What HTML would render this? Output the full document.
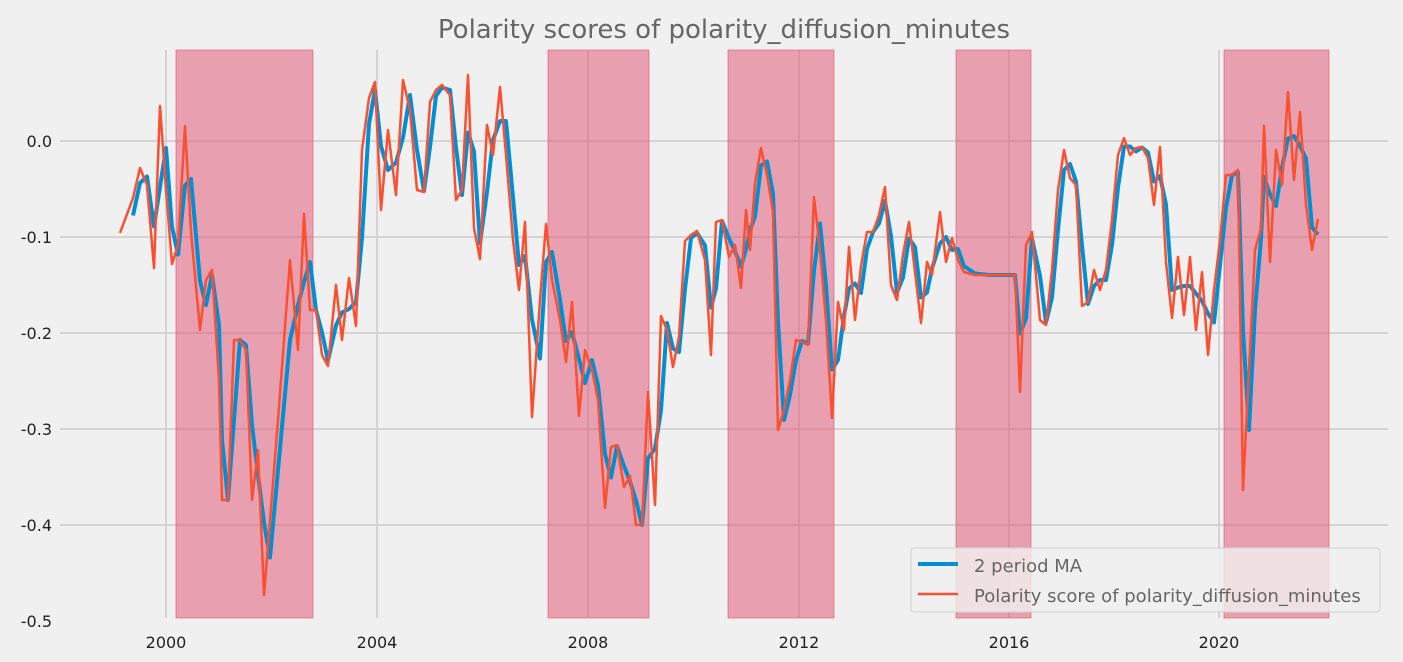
<!DOCTYPE html>
<html><head><style>
body{margin:0;background:#f0f0f0;}
svg{display:block;font-family:"DejaVu Sans","Liberation Sans",sans-serif;}
</style></head><body>
<svg id="s" width="1403" height="662" xmlns="http://www.w3.org/2000/svg">
<rect width="1403" height="662" fill="#f0f0f0"/>
<g stroke="#cbcbcb" stroke-width="1.5">
<line x1="60" x2="1388" y1="141" y2="141"/><line x1="60" x2="1388" y1="237" y2="237"/>
<line x1="60" x2="1388" y1="333" y2="333"/><line x1="60" x2="1388" y1="429" y2="429"/>
<line x1="60" x2="1388" y1="525" y2="525"/>
<line x1="166" x2="166" y1="50" y2="618"/><line x1="377" x2="377" y1="50" y2="618"/>
<line x1="588" x2="588" y1="50" y2="618"/><line x1="799" x2="799" y1="50" y2="618"/>
<line x1="1009" x2="1009" y1="50" y2="618"/><line x1="1219" x2="1219" y1="50" y2="618"/>
</g>
<g fill="#e05070" fill-opacity="0.5" stroke="#e05070" stroke-opacity="0.6">
<rect x="176" y="50" width="137" height="568"/><rect x="548" y="50" width="101" height="568"/>
<rect x="728" y="50" width="106" height="568"/><rect x="956" y="50" width="75" height="568"/>
<rect x="1224" y="50" width="105" height="568"/>
</g>
<g id="lines"></g>
<g font-size="16" fill="#222" text-anchor="end">
<text x="52" y="147">0.0</text><text x="52" y="243">-0.1</text><text x="52" y="339">-0.2</text>
<text x="52" y="435">-0.3</text><text x="52" y="531">-0.4</text><text x="52" y="627">-0.5</text>
</g>
<g font-size="16" fill="#222" text-anchor="middle">
<text x="166" y="648">2000</text><text x="377" y="648">2004</text><text x="588" y="648">2008</text>
<text x="799" y="648">2012</text><text x="1009" y="648">2016</text><text x="1219" y="648">2020</text>
</g>
<text x="724" y="38" font-size="26" fill="#666" text-anchor="middle">Polarity scores of polarity_diffusion_minutes</text>
<rect x="911" y="548" width="469" height="64" rx="3" fill="#f0f0f0" fill-opacity="0.8" stroke="#d0d0d0"/>
<line x1="918" x2="958" y1="564" y2="564" stroke="#008fd5" stroke-width="4"/>
<line x1="918" x2="958" y1="594" y2="594" stroke="#fc4f30" stroke-width="2.5"/>
<text x="974" y="572" font-size="18" fill="#666">2 period MA</text>
<text x="974" y="602" font-size="18" fill="#666">Polarity score of polarity_diffusion_minutes</text>
</svg>
<script>
var p=[120,233,133,198,140,168,147,185,154,268,160,106,166,190,172,264,178,245,185,126,191,232,200,330,206,280,212,270,219,380,222,500,228,500,234,340,240,340,246,350,252,500,258,450,264,595,270,520,278,420,290,260,298,350,304,214,310,310,316,310,322,355,328,366,336,285,342,340,349,278,356,326,362,150,369,98,375,82,381,210,388,130,396,195,403,80,410,110,417,190,424,192,430,102,436,90,442,85,450,95,456,200,462,190,468,75,474,228,480,259,487,125,493,155,500,87,506,155,513,240,519,290,525,222,532,417,540,300,546,224,552,280,560,320,566,362,572,302,579,416,585,350,592,370,598,400,605,508,611,447,617,445,624,487,630,476,636,525,642,525,648,392,655,505,661,316,667,330,673,367,679,337,685,241,691,235,697,231,705,260,711,355,716,222,722,220,729,257,735,245,741,288,746,210,750,250,755,183,761,148,767,175,773,212,778,430,784,410,790,380,796,340,802,342,808,345,814,197,820,250,826,321,832,418,838,302,844,330,849,247,855,320,861,266,867,232,873,232,879,215,885,187,891,285,897,300,903,255,909,222,915,272,921,323,927,262,932,275,940,212,946,262,952,238,958,260,964,272,975,275,990,275,1010,275,1015,275,1020,392,1026,245,1032,232,1040,320,1046,325,1052,270,1058,190,1064,150,1070,178,1076,185,1082,306,1088,302,1094,270,1100,290,1106,270,1112,220,1118,155,1124,138,1130,155,1136,148,1142,147,1148,158,1154,205,1160,147,1166,262,1172,318,1178,257,1184,315,1190,257,1196,330,1202,272,1208,355,1214,290,1220,240,1226,175,1232,175,1238,170,1243,490,1249,370,1255,250,1261,228,1264,126,1270,262,1276,150,1282,185,1288,92,1294,180,1300,112,1306,205,1312,250,1318,219];
var r=[],b=[];
for(var i=0;i<p.length;i+=2){r.push(p[i]+','+p[i+1]);if(i>0)b.push(p[i]+','+((p[i+1]+p[i-1])/2));}
document.getElementById('lines').innerHTML='<polyline fill="none" stroke="#008fd5" stroke-width="4" stroke-linejoin="round" points="'+b.join(' ')+'"/><polyline fill="none" stroke="#fc4f30" stroke-width="2.5" stroke-linejoin="round" points="'+r.join(' ')+'"/>';
</script>
</body></html>
